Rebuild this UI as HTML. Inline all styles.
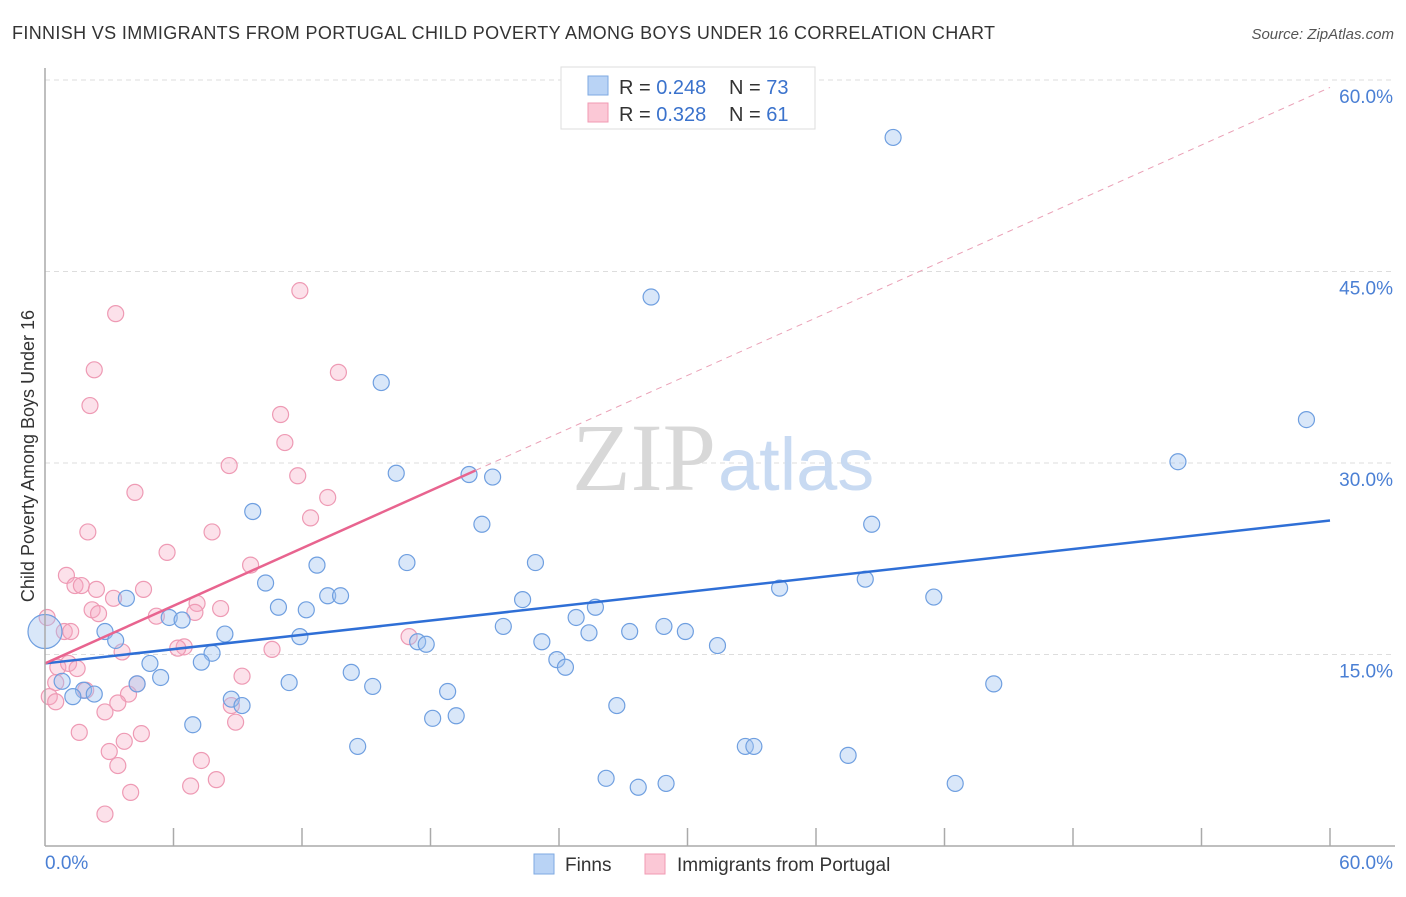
<!DOCTYPE html>
<html><head><meta charset="utf-8"><style>
body{margin:0;background:#fff;font-family:"Liberation Sans",sans-serif;}
</style></head><body>
<svg width="1406" height="892" xmlns="http://www.w3.org/2000/svg" font-family="Liberation Sans, sans-serif">
<text x="12" y="39" font-size="18" fill="#333" textLength="983" lengthAdjust="spacing">FINNISH VS IMMIGRANTS FROM PORTUGAL CHILD POVERTY AMONG BOYS UNDER 16 CORRELATION CHART</text>
<text x="1394" y="39" font-size="15" fill="#555" font-style="italic" text-anchor="end">Source: ZipAtlas.com</text>
<g id="grid"></g>
<text x="716" y="490" font-size="96" fill="#d8d8d8" font-family="Liberation Serif, serif" text-anchor="end">ZIP</text>
<text x="718" y="490" font-size="74" fill="#c8daf2">atlas</text>
<g id="pts"></g>
<g id="lines"></g>
<line x1="45" y1="68" x2="45" y2="846" stroke="#aaa" stroke-width="1.5"/>
<line x1="45" y1="846" x2="1395" y2="846" stroke="#aaa" stroke-width="1.5"/>
<g id="xt"></g>
<text x="45" y="869" font-size="19" fill="#4a7fd4">0.0%</text>
<text x="1393" y="869" font-size="19" fill="#4a7fd4" text-anchor="end">60.0%</text>
<text transform="translate(34,456) rotate(-90)" font-size="18" fill="#333" text-anchor="middle">Child Poverty Among Boys Under 16</text>
<g>
<rect x="561" y="67" width="254" height="62" fill="#fff" stroke="#ddd"/>
<rect x="588" y="76" width="20" height="19" fill="#b9d3f5" stroke="#7ea9e2"/>
<rect x="588" y="103" width="20" height="19" fill="#fbc8d6" stroke="#f09ab3"/>
<text x="619" y="94" font-size="20" fill="#333">R = <tspan fill="#3a72cc">0.248</tspan><tspan x="729">N = </tspan><tspan fill="#3a72cc">73</tspan></text>
<text x="619" y="121" font-size="20" fill="#333">R = <tspan fill="#3a72cc">0.328</tspan><tspan x="729">N = </tspan><tspan fill="#3a72cc"> 61</tspan></text>
</g>
<g>
<rect x="534" y="854" width="20" height="20" fill="#b9d3f5" stroke="#7ea9e2"/>
<text x="565" y="871" font-size="19" fill="#333">Finns</text>
<rect x="645" y="854" width="20" height="20" fill="#fbc8d6" stroke="#f09ab3"/>
<text x="677" y="871" font-size="19" fill="#333">Immigrants from Portugal</text>
</g>
</svg>
<script>
const yTicks=[15,30,45,60];
const yTickLabels=["15.0%","30.0%","45.0%","60.0%"];
const xTicks=[0,6,12,18,24,30,36,42,48,54,60];
const finnsX=[39.6,28.3,58.9,52.9,15.7,16.4,19.8,20.9,9.7,20.4,38.6,16.9,22.9,12.7,10.3,34.3,38.3,41.5,3.8,13.2,13.8,22.3,10.9,12.2,25.7,24.8,5.8,6.4,21.4,28.9,27.3,29.9,25.4,2.8,8.4,11.9,23.2,3.3,17.4,17.8,31.4,0,7.8,23.9,4.9,7.3,24.3,14.3,5.4,0.8,4.3,11.4,44.3,15.3,1.8,2.3,1.3,18.8,8.7,9.2,26.7,19.2,18.1,6.9,14.6,32.7,33.1,37.5,26.2,29.0,27.7,42.5];
const finnsY=[55.5,43.0,33.4,30.1,36.3,29.2,29.1,28.9,26.2,25.2,25.2,22.2,22.2,22.0,20.6,20.2,20.9,19.5,19.4,19.6,19.6,19.3,18.7,18.5,18.7,17.9,17.9,17.7,17.2,17.2,16.8,16.8,16.7,16.8,16.6,16.4,16.0,16.1,16.0,15.8,15.7,16.8,15.1,14.6,14.3,14.4,14.0,13.6,13.2,12.9,12.7,12.8,12.7,12.5,12.2,11.9,11.7,12.1,11.5,11.0,11.0,10.2,10.0,9.5,7.8,7.8,7.8,7.1,5.3,4.9,4.6,4.9];
const portX=[11.9,3.3,13.7,2.3,2.1,11.0,11.2,8.6,11.8,4.2,13.2,12.4,2.0,7.8,5.7,9.6,1.0,1.4,1.7,4.6,2.4,3.2,7.1,2.2,2.5,5.2,7.0,8.2,0.1,0.9,1.2,6.5,6.2,17.0,3.6,10.6,0.6,1.1,1.5,9.2,0.5,1.9,4.3,3.9,0.2,0.5,3.4,2.8,8.9,8.7,1.6,4.5,3.7,3.0,7.3,3.4,8.0,6.8,4.0,2.8];
const portY=[43.5,41.7,37.1,37.3,34.5,33.8,31.6,29.8,29.0,27.7,27.3,25.7,24.6,24.6,23.0,22.0,21.2,20.4,20.4,20.1,20.1,19.4,19.0,18.5,18.2,18.0,18.3,18.6,17.9,16.8,16.8,15.6,15.5,16.4,15.2,15.4,14.0,14.3,13.9,13.3,12.8,12.2,12.7,11.9,11.7,11.3,11.2,10.5,9.7,11.0,8.9,8.8,8.2,7.4,6.7,6.3,5.2,4.7,4.2,2.5];
const finnsTrend=[14.3,25.5];
const portTrend=[14.3,0.752];
const portTrendEndX=20.1;
const X=v=>45+v/60*1285, Y=v=>846-v/15*191.5;
const NS="http://www.w3.org/2000/svg";
function mk(t,a,p){const e=document.createElementNS(NS,t);for(const k in a)e.setAttribute(k,a[k]);p.appendChild(e);return e;}
const grid=document.getElementById('grid');
yTicks.forEach((t,i)=>{
 const l=mk('line',{x1:45,x2:1395,y1:Y(t),y2:Y(t),stroke:'#ddd','stroke-dasharray':'5,4'},grid);
 
 
 const tx=mk('text',{x:1393,y:Y(t)+23,'font-size':19,fill:'#4a7fd4','text-anchor':'end'},grid);
 tx.textContent=yTickLabels[i];
 
 
});
const xt=document.getElementById('xt');
xTicks.forEach(t=>{if(t===0)return;
 const l=mk('line',{x1:X(t),x2:X(t),y1:828,y2:846,stroke:'#aaa','stroke-width':1.5},xt);
 
 
});
const pts=document.getElementById('pts');
portX.forEach((x,i)=>{
 const c=mk('circle',{cx:X(x),cy:Y(portY[i]),r:8,fill:'rgba(247,170,195,0.35)',stroke:'#ee9ab4','stroke-width':1.2},pts);
 
 
});
finnsX.forEach((x,i)=>{
 const c=mk('circle',{cx:X(x),cy:Y(finnsY[i]),r:x===0?17:8,fill:'rgba(160,195,240,0.4)',stroke:'#6f9fe0','stroke-width':1.2},pts);
 
 
});
const ln=document.getElementById('lines');
let a=mk('line',{x1:X(0),y1:Y(finnsTrend[0]),x2:X(60),y2:Y(finnsTrend[1]),stroke:'#2f6fd6','stroke-width':2.5},ln);


a=mk('line',{x1:X(portTrendEndX),y1:Y(portTrend[0]+portTrend[1]*portTrendEndX),x2:X(60),y2:Y(portTrend[0]+portTrend[1]*60),stroke:'#eaa0b6','stroke-width':1,'stroke-dasharray':'6,5'},ln);


a=mk('line',{x1:X(0),y1:Y(portTrend[0]),x2:X(portTrendEndX),y2:Y(portTrend[0]+portTrend[1]*portTrendEndX),stroke:'#e8648f','stroke-width':2.5},ln);


</script>
</body></html>
